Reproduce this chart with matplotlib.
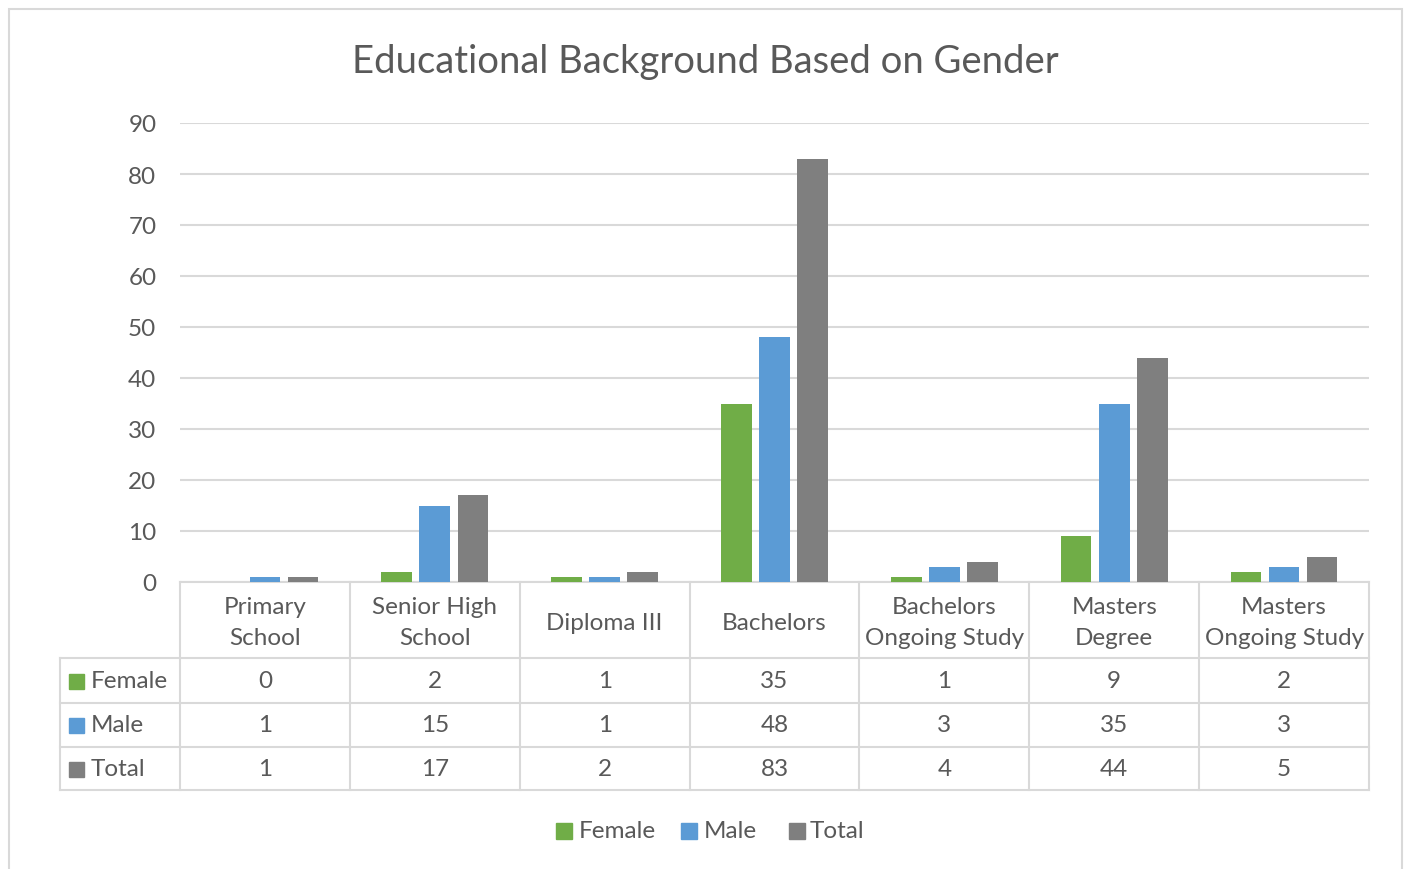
import matplotlib
matplotlib.use("Agg")
import matplotlib.pyplot as plt
from matplotlib.transforms import blended_transform_factory
from matplotlib.patches import Rectangle
from matplotlib.lines import Line2D

categories = ["Primary\nSchool", "Senior High\nSchool", "Diploma III", "Bachelors",
              "Bachelors\nOngoing Study", "Masters\nDegree", "Masters\nOngoing Study"]
female = [0, 2, 1, 35, 1, 9, 2]
male = [1, 15, 1, 48, 3, 35, 3]
total = [1, 17, 2, 83, 4, 44, 5]
series_names = ["Female", "Male", "Total"]
yticks = [0, 10, 20, 30, 40, 50, 60, 70, 80, 90]

colors = ["#70AD47", "#5B9BD5", "#7F7F7F"]
text_c = "#595959"
grid_c = "#D9D9D9"
plt.rcParams["font.family"] = ["Lato", "DejaVu Sans"]
FS = 17.5

W, H = 1406, 870
fig = plt.figure(figsize=(W / 100, H / 100), dpi=100)

def fx(px):
    return px / W

def fy(py):
    return 1 - py / H

# outer chart border
fig.add_artist(Rectangle((fx(9), fy(880)), fx(1402 - 9), fy(10) - fy(880),
                         transform=fig.transFigure, fill=False,
                         edgecolor=grid_c, linewidth=1.5))

left, right, top, bottom = 180, 1369, 124, 583
ax = fig.add_axes([fx(left), fy(bottom), fx(right - left), fy(top) - fy(bottom)])
n = len(categories)
ax.set_xlim(-0.5, n - 0.5)
ax.set_ylim(0, 90)
ax.set_yticks(yticks)
ax.set_xticks([])
ax.yaxis.grid(True, color=grid_c, linewidth=1.5)
ax.set_axisbelow(True)
for s in ["top", "right", "left"]:
    ax.spines[s].set_visible(False)
ax.spines["bottom"].set_color(grid_c)
ax.spines["bottom"].set_linewidth(1.5)
ax.tick_params(axis="y", length=0, labelsize=FS, labelcolor=text_c, pad=17)

width = 0.18
offset = 0.224
xs = range(n)
for k, (vals, c) in enumerate(zip([female, male, total], colors)):
    ax.bar([x + (k - 1) * offset for x in xs], vals, width=width, color=c, zorder=3)

fig.text(fx(705), fy(62), "Educational Background Based on Gender", fontsize=27.5,
         color=text_c, ha="center", va="center")

# data table under the plot
tr = blended_transform_factory(ax.transData, fig.transFigure)
row_edges = [583, 659, 704, 748, 791]
lw = 1.5
for i in range(n + 1):
    fig.add_artist(Line2D([i - 0.5, i - 0.5], [fy(row_edges[0]), fy(row_edges[-1])],
                          transform=tr, color=grid_c, linewidth=lw))
for r in row_edges[1:]:
    fig.add_artist(Line2D([fx(60), fx(right)], [fy(r), fy(r)],
                          transform=fig.transFigure, color=grid_c, linewidth=lw))
fig.add_artist(Line2D([fx(60), fx(60)], [fy(row_edges[1]), fy(row_edges[-1])],
                      transform=fig.transFigure, color=grid_c, linewidth=lw))

for i, cat in enumerate(categories):
    fig.text(i, fy((row_edges[0] + row_edges[1]) / 2 + 2), cat, transform=tr,
             ha="center", va="center", fontsize=FS, color=text_c, linespacing=1.55)

for r, (name, vals, c) in enumerate(zip(series_names, [female, male, total], colors)):
    yc = (row_edges[r + 1] + row_edges[r + 2]) / 2
    fig.add_artist(Rectangle((fx(69), fy(yc + 8)), fx(15), fy(yc - 7) - fy(yc + 8),
                             transform=fig.transFigure, color=c))
    fig.text(fx(91), fy(yc), name, ha="left", va="center", fontsize=FS, color=text_c)
    for i, v in enumerate(vals):
        fig.text(i, fy(yc), str(v), transform=tr, ha="center", va="center",
                 fontsize=FS, color=text_c)

# legend below the table
leg_y = 832
leg_items = [(556, 579), (681, 704), (789, 810)]
for (mx, tx), name, c in zip(leg_items, series_names, colors):
    fig.add_artist(Rectangle((fx(mx), fy(leg_y + 8)), fx(16), fy(leg_y - 8) - fy(leg_y + 8),
                             transform=fig.transFigure, color=c))
    fig.text(fx(tx), fy(leg_y), name, ha="left", va="center", fontsize=FS, color=text_c)

fig.savefig("out.png", dpi=100)
